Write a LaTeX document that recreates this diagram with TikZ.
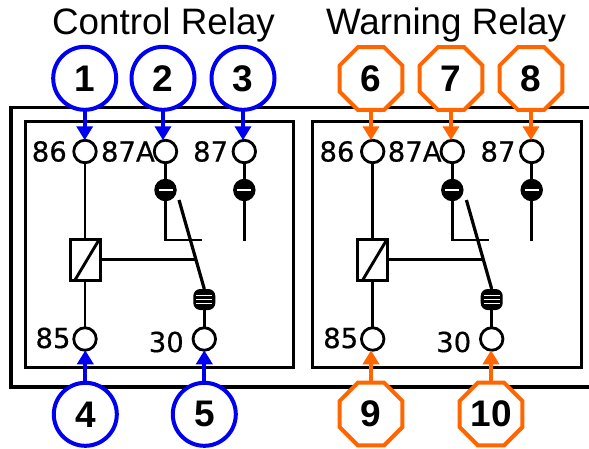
\documentclass[tikz,border=0pt]{standalone}
\usepackage{fontspec}
\setmainfont{Liberation Sans}
\newfontfamily\pinfont[FakeBold=0.5]{DejaVu Sans}
\usetikzlibrary{arrows.meta,shapes.geometric,calc}
\definecolor{calloutblue}{RGB}{0,0,240}
\definecolor{calloutorange}{RGB}{255,102,0}
\tikzset{
  title/.style={font=\fontsize{36.8}{40}\selectfont,anchor=base,inner sep=0pt},
  wire/.style={line width=2.9pt,black},
  panelbox/.style={draw=black,line width=3pt,minimum height=246pt,outer sep=0pt,inner sep=0pt},
  terminal/.style={circle,draw=black,fill=white,line width=2.8pt,minimum size=22.5pt,inner sep=0pt,outer sep=0pt},
  pinlabel/.style={font=\pinfont\fontsize{27.5}{29}\selectfont,anchor=east,inner sep=0pt},
  coilbox/.style={rectangle,draw=black,line width=3pt,minimum width=30pt,minimum height=41pt,inner sep=0pt,outer sep=0pt},
  contact/.style={circle,fill=black,minimum size=22.5pt,inner sep=0pt,outer sep=0pt},
  stripedcontact/.style={rectangle,rounded corners=7pt,fill=black,minimum width=22pt,minimum height=21pt,inner sep=0pt,outer sep=0pt},
  stripe/.style={white,line width=1.3pt},
  callout/.style={font=\fontsize{37}{40}\selectfont\bfseries,text=black,fill=white,inner sep=0pt,outer sep=0pt,line width=4pt},
  bluecallout/.style={callout,circle,draw=calloutblue,minimum size=63pt},
  orangecallout/.style={callout,regular polygon,regular polygon sides=8,draw=calloutorange,minimum size=68pt},
  bluearrow/.style={calloutblue,line width=4pt,-{Triangle[length=14pt,width=16pt]}},
  orangearrow/.style={calloutorange,line width=4pt,-{Triangle[length=14pt,width=16pt]}},
}
% #1 prefix, #2 x of 86/85, #3 x of 87A, #4 x of 87, #5 x of 30
\newcommand{\relaypanel}[5]{%
  \coordinate (#1corner) at (#3,240);
  \coordinate (#1bar) at (#3+36.5,240);
  \coordinate (#1end87) at (#4,241);
  \coordinate (#1swtop) at (#5-25.3,200);
  \coordinate (#1swmid) at (#5-9,259.5);
  \node[terminal] (#1t86) at (#2,151.5) {};
  \node[pinlabel] (#1l86) at (#2-18,151.5) {86};
  \node[pinlabel] (#1l87A) at (#3-10.5,151.5) {87A};
  \node[terminal] (#1t87A) at (#3,151.5) {};
  \node[terminal] (#1t87) at (#4,151.5) {};
  \node[pinlabel] (#1l87) at (#4-16,151.5) {87};
  \node[terminal] (#1t85) at (#2,339) {};
  \node[pinlabel] (#1l85) at (#2-14.3,338) {85};
  \node[terminal] (#1t30) at (#5,339) {};
  \node[pinlabel] (#1l30) at (#5-20.3,342) {30};
  \node[coilbox] (#1coil) at (#2,259.5) {};
  \node[contact] (#1c87A) at (#3,190) {};
  \node[contact] (#1c87) at (#4,190) {};
  \node[stripedcontact] (#1c30) at (#5,299.5) {};
  \draw[stripe] ($(#1c87A.center)+(-7,0)$) -- ($(#1c87A.center)+(7,0)$);
  \draw[stripe] ($(#1c87.center)+(-7,0)$) -- ($(#1c87.center)+(7,0)$);
  \draw[stripe] ($(#1c30.center)+(-8,-4)$) -- ($(#1c30.center)+(8,-4)$);
  \draw[stripe] ($(#1c30.center)+(-8,0)$) -- ($(#1c30.center)+(8,0)$);
  \draw[stripe] ($(#1c30.center)+(-8,4)$) -- ($(#1c30.center)+(8,4)$);
  \draw[wire] (#1t86) -- (#1coil.north);
  \draw[wire] (#1coil.south) -- (#1t85);
  \draw[wire] (#1t87A) -- (#1c87A);
  \draw[wire] (#1c87A) -- (#1corner) -- (#1bar);
  \draw[wire] (#1t87) -- (#1c87);
  \draw[wire] (#1c87) -- (#1end87);
  \draw[wire] (#1t30) -- (#1c30);
  \draw[wire,line width=3.2pt] (#1swtop) -- (#1c30.north);
  \draw[wire] (#1coil.east) -- (#1swmid);
  \draw[wire] ($(#1coil.north east)+(-0.5,0)$) -- ($(#1coil.south west)+(5,0)$);
}
\begin{document}
\begin{tikzpicture}[x=1pt,y=-1pt]
\useasboundingbox (0,0) rectangle (589,448);
\fill[white] (0,0) rectangle (589,448);
\node[title] (titleA) at (163.5,34) {Control Relay};
\node[title] (titleB) at (446,34) {Warning Relay};
\draw[line width=3.2pt,black] (589,107.5) -- (11,107.5) -- (11,387) -- (589,387);
\node[panelbox,minimum width=268pt] (panelA) at (159.5,244.6) {};
\node[panelbox,minimum width=269pt] (panelB) at (446.5,244.6) {};
\relaypanel{a}{85}{165.5}{244.3}{204.3}
\relaypanel{b}{372.7}{452.3}{531.7}{491.7}
\node[bluecallout] (n1) at (84.7,78.3) {1};
\node[bluecallout] (n2) at (163,78.3) {2};
\node[bluecallout] (n3) at (243,78.3) {3};
\node[bluecallout] (n4) at (85.3,414.3) {4};
\node[bluecallout] (n5) at (204.3,414.3) {5};
\node[orangecallout] (n6) at (371,78.5) {6};
\node[orangecallout] (n7) at (451,78.5) {7};
\node[orangecallout] (n8) at (531,78.5) {8};
\node[orangecallout] (n9) at (371,414) {9};
\node[orangecallout] (n10) at (491,414) {10};
\draw[bluearrow] (n1.south) -- (n1.south |- at86.north);
\draw[bluearrow] (n2.south) -- (n2.south |- at87A.north);
\draw[bluearrow] (n3.south) -- (n3.south |- at87.north);
\draw[bluearrow] (n4.north) -- (n4.north |- at85.south);
\draw[bluearrow] (n5.north) -- (n5.north |- at30.south);
\draw[orangearrow] (n6.south) -- (n6.south |- bt86.north);
\draw[orangearrow] (n7.south) -- (n7.south |- bt87A.north);
\draw[orangearrow] (n8.south) -- (n8.south |- bt87.north);
\draw[orangearrow] (n9.north) -- (n9.north |- bt85.south);
\draw[orangearrow] (n10.north) -- (n10.north |- bt30.south);
\end{tikzpicture}
\end{document}
